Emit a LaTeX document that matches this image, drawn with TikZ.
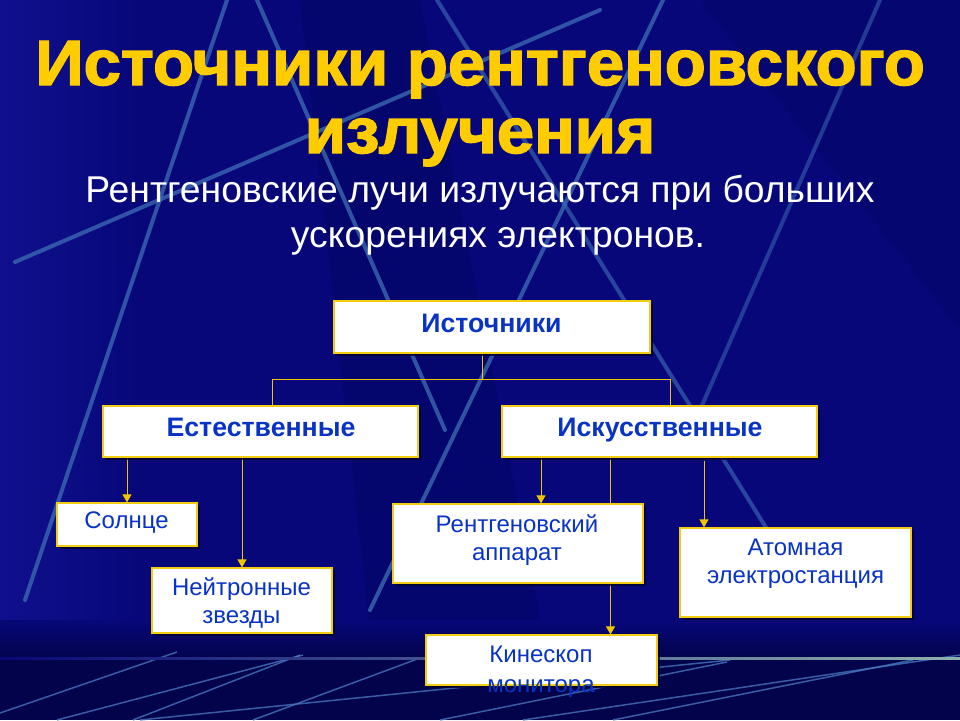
\documentclass[tikz,border=0pt]{standalone}
\usepackage{fontspec}
\setmainfont{Liberation Sans}
\newfontfamily\titlefont{Liberation Sans Bold}[FakeBold=2.2,FakeStretch=1.05]
\usetikzlibrary{arrows.meta,shadows}
\definecolor{bg}{HTML}{07077A}
\definecolor{bgdark}{HTML}{03034C}
\definecolor{bglight}{HTML}{10108E}
\definecolor{ray}{HTML}{3A68B0}
\definecolor{ray2}{HTML}{4A7CC4}
\definecolor{titley}{HTML}{FFCC00}
\definecolor{tshadow}{HTML}{000030}
\definecolor{boxline}{HTML}{F2CC10}
\definecolor{conn}{HTML}{F0C400}
\definecolor{btext}{HTML}{0833C4}
\definecolor{pale}{HTML}{A8C8A0}
\pgfdeclarelayer{bgl}
\pgfdeclarelayer{connl}
\pgfsetlayers{bgl,connl,main}
\begin{document}
\begin{tikzpicture}[x=1pt,y=-1pt,
  box/.style={draw=boxline,fill=white,line width=1.2pt,inner sep=0pt,
    drop shadow={shadow xshift=2.5pt,shadow yshift=-2.5pt,fill=tshadow,opacity=0.8}},
  conline/.style={draw=conn,line width=1pt},
  arr/.style={draw=conn,line width=1pt,-{Triangle[length=8pt,width=9pt,fill=conn]}},
  btxt/.style={anchor=base,inner sep=0pt,text=btext,font=\fontsize{26.7}{30}\selectfont\bfseries},
  rtxt/.style={anchor=base,inner sep=0pt,text=btext,font=\fontsize{24}{28}\selectfont},
  ttl/.style={anchor=base,inner sep=0pt,text=titley,font=\fontsize{64}{70}\titlefont},
  subt/.style={anchor=base,inner sep=0pt,text=white,font=\fontsize{37.3}{44}\selectfont},
  rays/.style={draw=ray,line width=4pt,line cap=round,opacity=0.8},
  lowrays/.style={draw=ray2,line width=1.5pt,opacity=0.75}
]
\useasboundingbox (0,0) rectangle (960,720);
\begin{pgfonlayer}{bgl}
% background
\fill[bg] (0,0) rectangle (960,720);
\shade[left color=bglight,right color=bg] (0,0) rectangle (140,620);
\fill[bgdark,opacity=0.25] (300,0) -- (420,0) -- (560,720) -- (380,720) -- cycle;
\fill[bgdark,opacity=0.2] (700,0) -- (960,0) -- (960,330) -- cycle;
\shade[top color=bg,bottom color=bgdark] (0,620) rectangle (960,658);
\fill[bgdark] (0,658) rectangle (960,720);
% diagonal rays
\draw[rays] (227,0) -- (25,600);
\draw[rays] (257,0) -- (445,430);
\draw[rays] (663,0) -- (370,610);
\draw[rays] (15,262) -- (600,10);
\draw[rays,opacity=0.65] (437,0) -- (780,550);
\draw[rays,opacity=0.55] (880,0) -- (700,410);
% bottom rays
\draw[lowrays] (0,713) -- (177,652);
\draw[lowrays] (57,720) -- (303,655);
\draw[lowrays] (133,720) -- (300,655);
\draw[lowrays] (140,720) -- (730,660);
\draw[lowrays] (253,720) -- (420,658);
\draw[lowrays] (440,720) -- (727,662);
\draw[lowrays] (523,720) -- (960,655);
\draw[lowrays] (613,720) -- (913,660);
% horizon line
\shade[left color=bg,middle color=pale,right color=pale!70!ray2] (0,657) rectangle (960,659);
\end{pgfonlayer}
% titles
\node[ttl] (t1) at (480,85) {Источники рентгеновского};
\node[ttl] (t2) at (480,153) {излучения};
\node[subt] (s1) at (480,202) {Рентгеновские лучи излучаются при больших};
\node[subt] (s2) at (498,247) {ускорениях электронов.};
% boxes
\node[box,minimum width=316,minimum height=52] (src) at (492,327) {};
\node[box,minimum width=315,minimum height=51] (nat) at (260.5,431.5) {};
\node[box,minimum width=315,minimum height=51] (art) at (659.5,431.5) {};
\node[box,minimum width=140,minimum height=43] (sun) at (127,524.5) {};
\node[box,minimum width=180,minimum height=65] (neu) at (242,600.5) {};
\node[box,minimum width=250,minimum height=79] (xray) at (518,543.5) {};
\node[box,minimum width=231,minimum height=89] (atom) at (795.5,572.5) {};
\node[box,minimum width=231,minimum height=50] (kin) at (541.5,660) {};
% box texts
\node[btxt] (tsrc) at (491.5,332) {Источники};
\node[btxt] (tnat) at (261,436) {Естественные};
\node[btxt] (tart) at (660,436) {Искусственные};
\node[rtxt] (tsun) at (126.5,528) {Солнце};
\node[rtxt] (tneu1) at (241.5,595) {Нейтронные};
\node[rtxt] (tneu2) at (241.5,623) {звезды};
\node[rtxt] (txr1) at (517,532) {Рентгеновский};
\node[rtxt] (txr2) at (517,560) {аппарат};
\node[rtxt] (tat1) at (795.5,555) {Атомная};
\node[rtxt] (tat2) at (795.5,583) {электростанция};
\node[rtxt] (tkin1) at (541,662) {Кинескоп};
\node[rtxt] (tkin2) at (541,692) {монитора};
% connectors
\begin{pgfonlayer}{connl}
\draw[conline] ([xshift=-10pt]src.south) -- ++(0,26) coordinate (hub);
\draw[conline] (hub) -| ([xshift=11.5pt]nat.north);
\draw[conline] (hub) -| ([xshift=11pt]art.north);
\path ([xshift=23pt]xray.north) coordinate (xin);
\path ([xshift=69pt]kin.north) coordinate (kinin);
\path ([xshift=-91.5pt]atom.north) coordinate (atin);
\path (art.south -| atin) ++(0,3) coordinate (atstart);
\draw[arr] (nat.south -| sun.north) -- (sun.north);
\draw[arr] (nat.south -| neu.north) -- (neu.north);
\draw[arr] (art.south -| xin) -- (xin);
\draw[arr] (art.south -| kinin) -- (kinin);
\draw[arr] (atstart) -- (atin);
\end{pgfonlayer}
\end{tikzpicture}
\end{document}
